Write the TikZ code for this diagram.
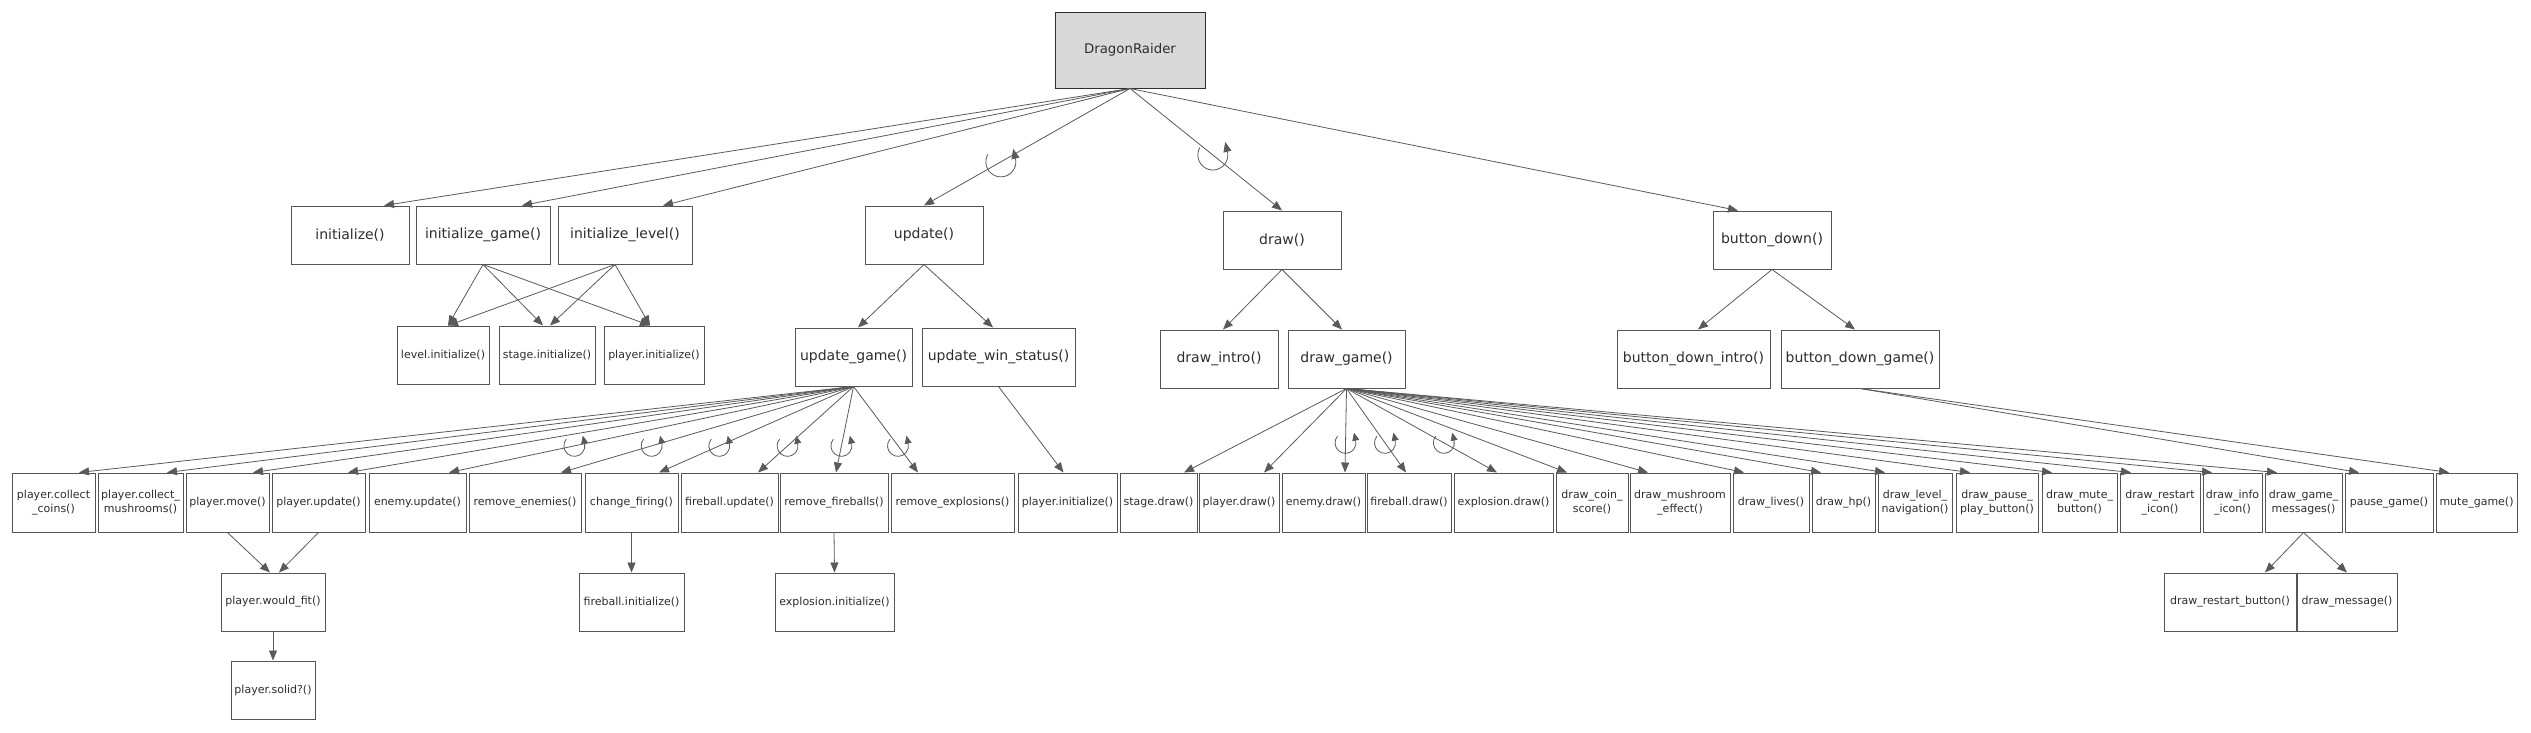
\documentclass[tikz,border=0pt]{standalone}
\usepackage{fontspec}
\setmainfont{DejaVu Sans}
\usetikzlibrary{arrows.meta}
\definecolor{edgec}{HTML}{5A5A5A}
\definecolor{boxc}{HTML}{555555}
\definecolor{txtc}{HTML}{2E2E2E}
\definecolor{rootfill}{HTML}{D9D9D9}
\begin{document}
\begin{tikzpicture}[x=1pt,y=-1pt,
  box/.style={draw=boxc, line width=1pt, fill=white, inner sep=0pt, align=center, text=txtc},
  big/.style={box, minimum height=58pt, font=\fontsize{14}{17}\selectfont},
  sm/.style={box, minimum height=59pt, font=\fontsize{11}{14}\selectfont},
  edge/.style={draw=edgec, line width=0.8pt, -{Triangle[length=10pt,width=8pt]}},
  loopbig/.style={draw=edgec, line width=0.8pt, -{Triangle[length=10pt,width=8pt]}},
  loopsm/.style={draw=edgec, line width=0.8pt, -{Triangle[length=8pt,width=7pt]}}
]
\fill[white] (0,0) rectangle (2531,732);
\useasboundingbox (0,0) rectangle (2531,732);

% root
\node[box, fill=rootfill, draw=txtc, minimum width=150pt, minimum height=76pt,
      font=\fontsize{13.3}{16}\selectfont] (root) at (1130,50) {DragonRaider};

% level 2
\node[big, minimum width=118pt] (init)   at (350,235)  {initialize()};
\node[big, minimum width=134pt] (initg)  at (483,235)  {initialize\_game()};
\node[big, minimum width=134pt] (initl)  at (625,235)  {initialize\_level()};
\node[big, minimum width=118pt] (update) at (924,235)  {update()};
\node[big, minimum width=118pt] (drw)    at (1282,240) {draw()};
\node[big, minimum width=118pt] (bdown)  at (1772,240) {button\_down()};

% level 3
\node[sm, minimum width=92pt, minimum height=58pt]  (levi) at (443,355) {level.initialize()};
\node[sm, minimum width=96pt, minimum height=58pt]  (stgi) at (547,355) {stage.initialize()};
\node[sm, minimum width=100pt, minimum height=58pt] (plyi) at (654,355) {player.initialize()};
\node[big, minimum width=117pt] (ugame)  at (853.5,357)  {update\_game()};
\node[big, minimum width=153pt] (uwin)   at (998.5,357)  {update\_win\_status()};
\node[big, minimum width=118pt] (dintro) at (1219,359)   {draw\_intro()};
\node[big, minimum width=117pt] (dgame)  at (1346.5,359) {draw\_game()};
\node[big, minimum width=153pt] (bdi)    at (1693.5,359) {button\_down\_intro()};
\node[big, minimum width=158pt] (bdg)    at (1860,359)   {button\_down\_game()};

% level 4
\node[sm, minimum width=83pt]  (coins) at (53.5,502.5)  {player.collect\\\_coins()};
\node[sm, minimum width=85pt]  (mush)  at (140.5,502.5) {player.collect\_\\mushrooms()};
\node[sm, minimum width=83pt]  (move)  at (227.5,502.5) {player.move()};
\node[sm, minimum width=93pt]  (pupd)  at (318.5,502.5) {player.update()};
\node[sm, minimum width=97pt]  (eupd)  at (417.5,502.5) {enemy.update()};
\node[sm, minimum width=112pt] (remen) at (525,502.5)   {remove\_enemies()};
\node[sm, minimum width=93pt]  (chf)   at (631.5,502.5) {change\_firing()};
\node[sm, minimum width=97pt]  (fbu)   at (729.5,502.5) {fireball.update()};
\node[sm, minimum width=108pt] (remfb) at (834,502.5)   {remove\_fireballs()};
\node[sm, minimum width=123pt] (remex) at (952.5,502.5) {remove\_explosions()};
\node[sm, minimum width=99pt]  (plyii) at (1067.5,502.5) {player.initialize()};
\node[sm, minimum width=77pt]  (sdraw) at (1158.5,502.5) {stage.draw()};
\node[sm, minimum width=80pt]  (pdraw) at (1239,502.5)  {player.draw()};
\node[sm, minimum width=83pt]  (edraw) at (1323.5,502.5) {enemy.draw()};
\node[sm, minimum width=84pt]  (fdraw) at (1409,502.5)  {fireball.draw()};
\node[sm, minimum width=99pt]  (xdraw) at (1503.5,502.5) {explosion.draw()};
\node[sm, minimum width=72pt]  (coin)  at (1592,502.5)  {draw\_coin\_\\score()};
\node[sm, minimum width=100pt] (mushe) at (1680,502.5)  {draw\_mushroom\\\_effect()};
\node[sm, minimum width=76pt]  (lives) at (1771,502.5)  {draw\_lives()};
\node[sm, minimum width=63pt]  (hp)    at (1843.5,502.5) {draw\_hp()};
\node[sm, minimum width=74pt]  (lnav)  at (1915,502.5)  {draw\_level\_\\navigation()};
\node[sm, minimum width=82pt]  (ppb)   at (1997,502.5)  {draw\_pause\_\\play\_button()};
\node[sm, minimum width=75pt]  (mbtn)  at (2079.5,502.5) {draw\_mute\_\\button()};
\node[sm, minimum width=80pt]  (ricon) at (2160,502.5)  {draw\_restart\\\_icon()};
\node[sm, minimum width=59pt]  (iicon) at (2232.5,502.5) {draw\_info\\\_icon()};
\node[sm, minimum width=77pt]  (gmsg)  at (2303.5,502.5) {draw\_game\_\\messages()};
\node[sm, minimum width=88pt]  (pause) at (2389,502.5)  {pause\_game()};
\node[sm, minimum width=81pt]  (mute)  at (2476.5,502.5) {mute\_game()};

% level 5
\node[sm, minimum width=104pt, minimum height=58pt] (wfit) at (273,602)    {player.would\_fit()};
\node[sm, minimum width=105pt, minimum height=58pt] (fbi)  at (631.5,602)  {fireball.initialize()};
\node[sm, minimum width=119pt, minimum height=58pt] (exi)  at (834.5,602)  {explosion.initialize()};
\node[sm, minimum width=132pt, minimum height=58pt] (rbtn) at (2230,602)   {draw\_restart\_button()};
\node[sm, minimum width=100pt, minimum height=58pt] (dmsg) at (2347,602)   {draw\_message()};
\node[sm, minimum width=84pt, minimum height=58pt]  (solid) at (273,690)   {player.solid?()};

% root edges
\draw[edge] (root.south) -- ([xshift=34pt]init.north);
\draw[edge] (root.south) -- ([xshift=39pt]initg.north);
\draw[edge] (root.south) -- ([xshift=38pt]initl.north);
\draw[edge] (root.south) -- coordinate[pos=0.627] (L1) (update.north);
\draw[edge] (root.south) -- coordinate[pos=0.545] (L2) (drw.north);
\draw[edge] (root.south) -- ([xshift=-34pt]bdown.north);

% initialize edges
\draw[edge] (initg.south) -- ([xshift=5pt]levi.north);
\draw[edge] (initg.south) -- ([xshift=-4pt]stgi.north);
\draw[edge] (initg.south) -- ([xshift=-4pt]plyi.north);
\draw[edge] ([xshift=-10pt]initl.south) -- ([xshift=5pt]levi.north);
\draw[edge] ([xshift=-10pt]initl.south) -- ([xshift=3pt]stgi.north);
\draw[edge] ([xshift=-10pt]initl.south) -- ([xshift=-4pt]plyi.north);

% update edges
\draw[edge] (update.south) -- ([xshift=4.5pt]ugame.north);
\draw[edge] (update.south) -- ([xshift=-5.5pt]uwin.north);
\draw[edge] (drw.south) -- ([xshift=4pt]dintro.north);
\draw[edge] (drw.south) -- ([xshift=-4.5pt]dgame.north);
\draw[edge] (bdown.south) -- ([xshift=4.5pt]bdi.north);
\draw[edge] (bdown.south) -- ([xshift=-5pt]bdg.north);

% update_game fan
\draw[edge] (ugame.south) -- ([xshift=25.5pt]coins.north);
\draw[edge] (ugame.south) -- ([xshift=26.5pt]mush.north);
\draw[edge] (ugame.south) -- ([xshift=25.5pt]move.north);
\draw[edge] (ugame.south) -- ([xshift=29.5pt]pupd.north);
\draw[edge] (ugame.south) -- coordinate[pos=0.69] (L3) ([xshift=31.5pt]eupd.north);
\draw[edge] (ugame.south) -- coordinate[pos=0.69] (L4) ([xshift=36pt]remen.north);
\draw[edge] (ugame.south) -- coordinate[pos=0.69] (L5) ([xshift=27.5pt]chf.north);
\draw[edge] (ugame.south) -- coordinate[pos=0.69] (L6) ([xshift=28.5pt]fbu.north);
\draw[edge] (ugame.south) -- coordinate[pos=0.69] (L7) ([xshift=2pt]remfb.north);
\draw[edge] (ugame.south) -- coordinate[pos=0.69] (L8) ([xshift=-34.5pt]remex.north);
\draw[edge] (uwin.south) -- ([xshift=-4pt]plyii.north);

% draw_game fan
\draw[edge] (dgame.south) -- ([xshift=25.5pt]sdraw.north);
\draw[edge] (dgame.south) -- ([xshift=25pt]pdraw.north);
\draw[edge] (dgame.south) -- coordinate[pos=0.647] (L9) ([xshift=21.5pt]edraw.north);
\draw[edge] (dgame.south) -- coordinate[pos=0.647] (L10) ([xshift=-3pt]fdraw.north);
\draw[edge] (dgame.south) -- coordinate[pos=0.647] (L11) ([xshift=-6.5pt]xdraw.north);
\draw[edge] (dgame.south) -- ([xshift=-25pt]coin.north);
\draw[edge] (dgame.south) -- ([xshift=-32pt]mushe.north);
\draw[edge] (dgame.south) -- ([xshift=-27pt]lives.north);
\draw[edge] (dgame.south) -- ([xshift=-22.5pt]hp.north);
\draw[edge] (dgame.south) -- ([xshift=-30pt]lnav.north);
\draw[edge] (dgame.south) -- ([xshift=-27pt]ppb.north);
\draw[edge] (dgame.south) -- ([xshift=-27.5pt]mbtn.north);
\draw[edge] (dgame.south) -- ([xshift=-29pt]ricon.north);
\draw[edge] (dgame.south) -- ([xshift=-20.5pt]iicon.north);
\draw[edge] (dgame.south) -- ([xshift=-26.5pt]gmsg.north);
\draw[edge] (bdg.south) -- ([xshift=-30pt]pause.north);
\draw[edge] (bdg.south) -- ([xshift=-27.5pt]mute.north);

% lower edges
\draw[edge] (move.south) -- ([xshift=-3pt]wfit.north);
\draw[edge] (pupd.south) -- ([xshift=6pt]wfit.north);
\draw[edge] (wfit.south) -- (solid.north);
\draw[edge] (chf.south) -- (fbi.north);
\draw[edge] (remfb.south) -- (exi.north);
\draw[edge] (gmsg.south) -- ([xshift=35pt]rbtn.north);
\draw[edge] (gmsg.south) -- (dmsg.north);

% loop marks (iteration)
\foreach \c in {L1,L2}{
  \draw[loopbig] ([shift={(150:15pt)}]\c) arc[start angle=150, end angle=373, radius=15pt] -- ++(103:10pt);
}
\foreach \c in {L3,L4,L5,L6,L7,L8,L9,L10,L11}{
  \draw[loopsm] ([shift={(140:10.5pt)}]\c) arc[start angle=140, end angle=373, radius=10.5pt] -- ++(103:8pt);
}
\end{tikzpicture}
\end{document}
